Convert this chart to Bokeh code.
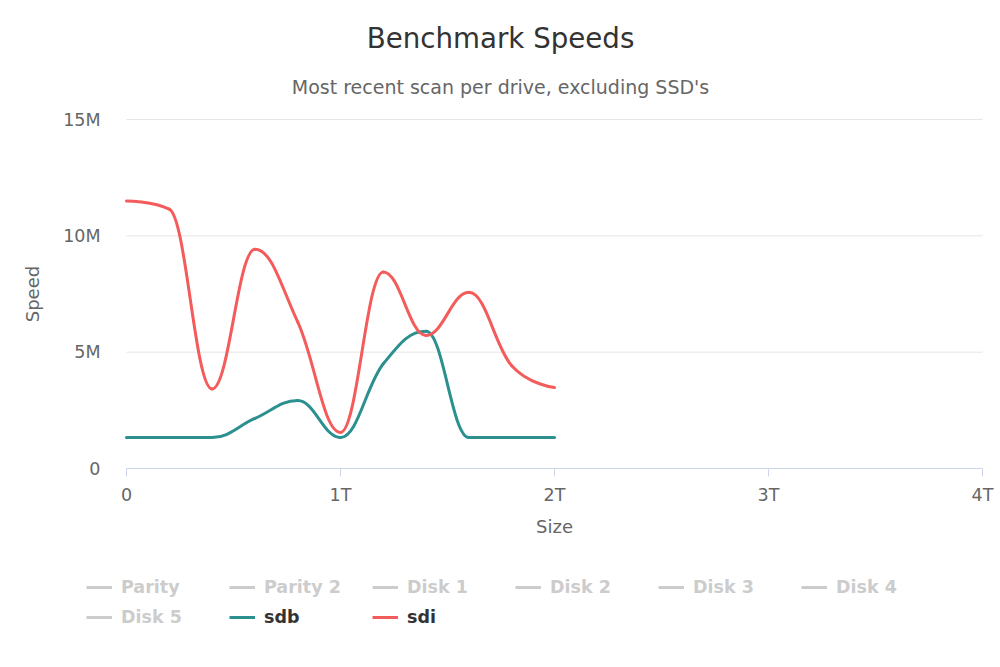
from bokeh.plotting import figure
from bokeh.models import (Range1d, FixedTicker, CustomJSTickFormatter, Label,
                          Legend, LegendItem)
from bokeh.embed import file_html
from bokeh.resources import INLINE

# ---- data ----
size_tb = [0.0, 0.2, 0.4, 0.6, 0.8, 1.0, 1.2, 1.4, 1.6, 1.8, 2.0]
sdb_speed = [1.33, 1.33, 1.33, 2.15, 2.92, 1.33, 4.5, 5.9, 1.33, 1.33, 1.33]   # M
sdi_speed = [11.5, 11.15, 3.42, 9.42, 6.3, 1.55, 8.45, 5.72, 7.57, 4.42, 3.48]  # M
hidden_series = ["Parity", "Parity 2", "Disk 1", "Disk 2", "Disk 3", "Disk 4", "Disk 5"]
x_ticks = [0, 1, 2, 3, 4]
y_ticks = [0, 5, 10, 15]
title_text = "Benchmark Speeds"
subtitle_text = "Most recent scan per drive, excluding SSD's"

FONT = "DejaVu Sans"
SDB_COLOR = "#2b908f"
SDI_COLOR = "#f45b5b"
HIDDEN_COLOR = "#cccccc"
NAN = float("nan")

# ---- layout geometry (pixels) ----
W, H = 1000, 667
PLOT_L, PLOT_R, PLOT_T, PLOT_B = 126, 982, 119, 468
X_MAX, Y_MAX = x_ticks[-1], y_ticks[-1]
px_per_x = (PLOT_R - PLOT_L) / X_MAX
px_per_y = (PLOT_B - PLOT_T) / Y_MAX


def spline_segments(xs, ys, smoothing=1.5):
    """Highcharts-style spline: cubic bezier segments between points."""
    n = len(xs)
    denom = smoothing + 1
    left = [None] * n
    right = [None] * n
    for i in range(n):
        px, py = xs[i], ys[i]
        if 0 < i < n - 1:
            lx, ly = xs[i - 1], ys[i - 1]
            nx, ny = xs[i + 1], ys[i + 1]
            lcx = (smoothing * px + lx) / denom
            lcy = (smoothing * py + ly) / denom
            rcx = (smoothing * px + nx) / denom
            rcy = (smoothing * py + ny) / denom
            corr = 0.0
            if rcx != lcx:
                corr = (rcy - lcy) * (rcx - px) / (rcx - lcx) + py - rcy
            lcy += corr
            rcy += corr
            if lcy > ly and lcy > py:
                lcy = max(ly, py)
                rcy = 2 * py - lcy
            elif lcy < ly and lcy < py:
                lcy = min(ly, py)
                rcy = 2 * py - lcy
            if rcy > ny and rcy > py:
                rcy = max(ny, py)
                lcy = 2 * py - rcy
            elif rcy < ny and rcy < py:
                rcy = min(ny, py)
                lcy = 2 * py - rcy
            left[i] = (lcx, lcy)
            right[i] = (rcx, rcy)
        else:
            left[i] = (px, py)
            right[i] = (px, py)
    seg = dict(x0=[], y0=[], x1=[], y1=[], cx0=[], cy0=[], cx1=[], cy1=[])
    for i in range(1, n):
        seg["x0"].append(xs[i - 1]); seg["y0"].append(ys[i - 1])
        seg["x1"].append(xs[i]); seg["y1"].append(ys[i])
        seg["cx0"].append(right[i - 1][0]); seg["cy0"].append(right[i - 1][1])
        seg["cx1"].append(left[i][0]); seg["cy1"].append(left[i][1])
    return seg


# The frame covers the whole canvas; axes sit at fixed data locations.
p = figure(title=None, frame_width=W, frame_height=H,
           min_border_left=0, min_border_right=0, min_border_top=0, min_border_bottom=0,
           x_range=Range1d(-PLOT_L / px_per_x, (W - PLOT_L) / px_per_x),
           y_range=Range1d(-(H - PLOT_B) / px_per_y, PLOT_B / px_per_y),
           output_backend="svg", toolbar_location=None,
           background_fill_color="white", border_fill_color="white")
p.outline_line_color = None

# ---- axes ----
p.xaxis.fixed_location = 0
p.yaxis.fixed_location = 0
p.xaxis.bounds = (0, X_MAX)
p.yaxis.bounds = (0, Y_MAX)
p.xaxis.ticker = FixedTicker(ticks=x_ticks)
p.yaxis.ticker = FixedTicker(ticks=y_ticks)
p.xaxis.formatter = CustomJSTickFormatter(code="return tick == 0 ? '0' : tick + 'T';")
p.yaxis.formatter = CustomJSTickFormatter(code="return tick == 0 ? '0' : tick + 'M';")
p.xaxis.axis_label = "Size"
p.yaxis.axis_label = "Speed"
for ax in (p.xaxis, p.yaxis):
    ax.major_label_text_font = FONT
    ax.major_label_text_font_size = "17.5px"
    ax.major_label_text_color = "#666666"
    ax.axis_label_text_font = FONT
    ax.axis_label_text_font_size = "18px"
    ax.axis_label_text_font_style = "normal"
    ax.axis_label_text_color = "#666666"
    ax.minor_tick_line_color = None

p.xaxis.axis_line_color = "#ccd6eb"
p.xaxis.major_tick_line_color = "#ccd6eb"
p.xaxis.major_tick_in = 0
p.xaxis.major_tick_out = 8
p.xaxis.major_label_standoff = 8
p.xaxis.axis_label_standoff = 8

p.yaxis.axis_line_color = None
p.yaxis.major_tick_line_color = None
p.yaxis.major_tick_in = 0
p.yaxis.major_tick_out = 0
p.yaxis.major_label_standoff = 26
p.yaxis.axis_label_standoff = 17

# grid lines only across the plotting area (0 .. X_MAX)
p.xgrid.grid_line_color = None
p.ygrid.grid_line_color = None
grid_y = [t for t in y_ticks if t > 0]
p.segment(x0=[0] * len(grid_y), x1=[X_MAX] * len(grid_y), y0=grid_y, y1=grid_y,
          line_color="#e6e6e6", line_width=1)

# ---- series ----
p.bezier(source=spline_segments(size_tb, sdb_speed),
         x0="x0", y0="y0", x1="x1", y1="y1",
         cx0="cx0", cy0="cy0", cx1="cx1", cy1="cy1",
         line_color=SDB_COLOR, line_width=3, line_cap="round")
p.bezier(source=spline_segments(size_tb, sdi_speed),
         x0="x0", y0="y0", x1="x1", y1="y1",
         cx0="cx0", cy0="cy0", cx1="cx1", cy1="cy1",
         line_color=SDI_COLOR, line_width=3, line_cap="round")

# ---- titles ----
p.add_layout(Label(x=W / 2, y=H - 38, x_units="screen", y_units="screen",
                   text=title_text, text_align="center", text_baseline="alphabetic",
                   text_font=FONT, text_font_size="27.7px", text_color="#333333"))
p.add_layout(Label(x=W / 2, y=H - 86, x_units="screen", y_units="screen",
                   text=subtitle_text, text_align="center", text_baseline="alphabetic",
                   text_font=FONT, text_font_size="19px", text_color="#666666"))

# ---- legend ----
hidden_keys = [p.line([NAN], [NAN], line_color=HIDDEN_COLOR, line_width=3) for _ in hidden_series]
sdb_key = p.line([NAN], [NAN], line_color=SDB_COLOR, line_width=3)
sdi_key = p.line([NAN], [NAN], line_color=SDI_COLOR, line_width=3)

legend_style = dict(orientation="horizontal", glyph_width=26, glyph_height=20,
                    label_standoff=9, label_width=100, label_height=20, spacing=8,
                    padding=0, margin=0, border_line_alpha=0, background_fill_alpha=0,
                    label_text_font=FONT, label_text_font_style="bold",
                    label_text_font_size="17.5px", label_text_baseline="middle")

row1 = Legend(items=[LegendItem(label=name, renderers=[r])
                     for name, r in zip(hidden_series[:6], hidden_keys[:6])],
              location=(86, H - 597), label_text_color=HIDDEN_COLOR, **legend_style)
row2a = Legend(items=[LegendItem(label=hidden_series[6], renderers=[hidden_keys[6]])],
               location=(86, H - 627), label_text_color=HIDDEN_COLOR, **legend_style)
row2b = Legend(items=[LegendItem(label="sdb", renderers=[sdb_key]),
                      LegendItem(label="sdi", renderers=[sdi_key])],
               location=(229, H - 627), label_text_color="#333333", **legend_style)
for lg in (row1, row2a, row2b):
    p.add_layout(lg, "center")

open("out.html", "w").write(file_html(p, INLINE))
